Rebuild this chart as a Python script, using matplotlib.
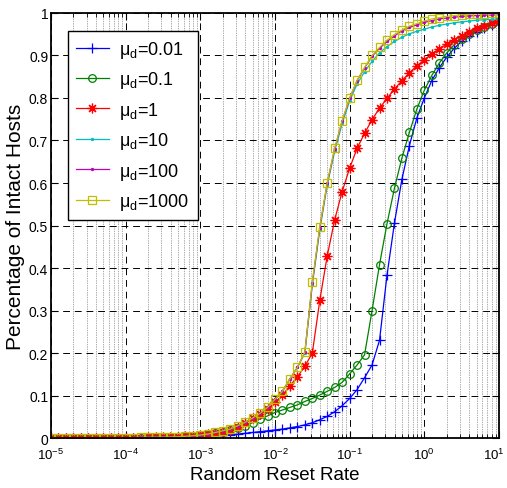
import numpy as np
import matplotlib
matplotlib.use('Agg')
import matplotlib.pyplot as plt
from matplotlib.ticker import LogLocator, NullFormatter
from matplotlib.transforms import ScaledTranslation

plt.rcParams['font.family'] = ['Liberation Sans', 'DejaVu Sans']

# reset rate sweep: 10 points per decade from 1e-5 to 1e1
rate = np.logspace(-5, 1, 61)

mu_001 = [0.0003, 0.0003, 0.0003, 0.0003, 0.0003, 0.0003, 0.0003, 0.0003, 0.0003, 0.0003,
          0.0003, 0.0003, 0.0004, 0.0005, 0.0006, 0.0008, 0.001, 0.0015, 0.002, 0.003,
          0.004, 0.005, 0.006, 0.007, 0.008, 0.009, 0.011, 0.013, 0.015, 0.017,
          0.019, 0.021, 0.024, 0.027, 0.031, 0.036, 0.043, 0.051, 0.062, 0.076,
          0.093, 0.114, 0.142, 0.172, 0.230, 0.383, 0.506, 0.609, 0.688, 0.753,
          0.800, 0.841, 0.871, 0.896, 0.917, 0.933, 0.946, 0.956, 0.965, 0.972, 0.980]

mu_01 = [0.0005, 0.0005, 0.0005, 0.0005, 0.0005, 0.0005, 0.0005, 0.0005, 0.0005, 0.0005,
         0.0005, 0.0006, 0.0007, 0.0009, 0.001, 0.0013, 0.002, 0.003, 0.0035, 0.0045,
         0.006, 0.008, 0.011, 0.014, 0.018, 0.023, 0.029, 0.036, 0.045, 0.052,
         0.060, 0.066, 0.072, 0.078, 0.086, 0.093, 0.101, 0.110, 0.119, 0.131,
         0.151, 0.172, 0.196, 0.300, 0.408, 0.504, 0.588, 0.659, 0.719, 0.774,
         0.818, 0.853, 0.882, 0.906, 0.925, 0.939, 0.951, 0.960, 0.968, 0.975, 0.981]

mu_1 = [0.001, 0.001, 0.001, 0.001, 0.001, 0.001, 0.001, 0.001, 0.001, 0.001,
        0.001, 0.001, 0.0012, 0.0013, 0.0015, 0.0017, 0.002, 0.003, 0.004, 0.005,
        0.007, 0.009, 0.012, 0.015, 0.020, 0.027, 0.036, 0.046, 0.056, 0.068,
        0.084, 0.101, 0.123, 0.144, 0.169, 0.200, 0.324, 0.429, 0.514, 0.580,
        0.635, 0.682, 0.717, 0.749, 0.776, 0.799, 0.821, 0.841, 0.859, 0.876,
        0.889, 0.904, 0.915, 0.927, 0.937, 0.947, 0.955, 0.964, 0.970, 0.976, 0.981]

mu_10 = [0.001, 0.001, 0.001, 0.001, 0.001, 0.001, 0.001, 0.001, 0.001, 0.001,
         0.001, 0.001, 0.0015, 0.0015, 0.002, 0.002, 0.0025, 0.003, 0.004, 0.0055,
         0.007, 0.0094, 0.013, 0.017, 0.021, 0.029, 0.037, 0.047, 0.058, 0.072,
         0.091, 0.110, 0.139, 0.166, 0.200, 0.360, 0.490, 0.595, 0.675, 0.740,
         0.793, 0.833, 0.862, 0.886, 0.906, 0.921, 0.933, 0.943, 0.951, 0.957,
         0.962, 0.967, 0.971, 0.974, 0.977, 0.979, 0.981, 0.983, 0.984, 0.985, 0.986]

mu_100 = [0.001, 0.001, 0.001, 0.001, 0.001, 0.001, 0.001, 0.001, 0.001, 0.001,
          0.001, 0.001, 0.0015, 0.0015, 0.002, 0.002, 0.0025, 0.003, 0.004, 0.0055,
          0.007, 0.0094, 0.013, 0.017, 0.021, 0.029, 0.037, 0.047, 0.058, 0.072,
          0.091, 0.110, 0.139, 0.166, 0.202, 0.365, 0.495, 0.600, 0.681, 0.746,
          0.799, 0.841, 0.871, 0.898, 0.917, 0.933, 0.946, 0.958, 0.966, 0.972,
          0.978, 0.982, 0.986, 0.988, 0.990, 0.992, 0.993, 0.994, 0.995, 0.995, 0.996]

mu_1000 = [0.001, 0.001, 0.001, 0.001, 0.001, 0.001, 0.001, 0.001, 0.001, 0.001,
           0.001, 0.001, 0.0015, 0.0015, 0.002, 0.002, 0.0025, 0.003, 0.004, 0.0055,
           0.007, 0.0094, 0.013, 0.017, 0.021, 0.029, 0.037, 0.047, 0.058, 0.072,
           0.091, 0.110, 0.139, 0.166, 0.202, 0.368, 0.497, 0.601, 0.682, 0.747,
           0.800, 0.842, 0.872, 0.900, 0.919, 0.936, 0.949, 0.960, 0.969, 0.975,
           0.981, 0.986, 0.989, 0.992, 0.994, 0.996, 0.997, 0.998, 0.998, 0.999, 0.999]

labels = ['0.01', '0.1', '1', '10', '100', '1000']
xtick_vals = [1e-5, 1e-4, 1e-3, 1e-2, 1e-1, 1e0, 1e1]
xtick_text = [r'$\mathregular{10^{-5}}$', r'$\mathregular{10^{-4}}$', r'$\mathregular{10^{-3}}$',
              r'$\mathregular{10^{-2}}$', r'$\mathregular{10^{-1}}$', r'$\mathregular{10^{0}}$',
              r'$\mathregular{10^{1}}$']
ytick_vals = [0, 0.1, 0.2, 0.3, 0.4, 0.5, 0.6, 0.7, 0.8, 0.9, 1]
ytick_text = ['0', '0.1', '0.2', '0.3', '0.4', '0.5', '0.6', '0.7', '0.8', '0.9', '1']

fig = plt.figure(figsize=(5.07, 4.89), dpi=100)
ax = fig.add_axes([0.1006, 0.1022, 0.8836, 0.8692])

styles = [
    (mu_001, (0, 0, 1), '+', 7, 'full'),
    (mu_01, (0, 0.5, 0), 'o', 5.5, 'none'),
    (mu_1, (1, 0, 0), (8, 2, 0), 7, 'full'),
    (mu_10, (0, 0.75, 0.75), '.', 3, 'full'),
    (mu_100, (0.75, 0, 0.75), '.', 3, 'full'),
    (mu_1000, (0.75, 0.75, 0), 's', 5.5, 'none'),
]
for (vals, col, mk, ms, fill), lab in zip(styles, labels):
    ax.plot(rate, vals, color=col, marker=mk, ms=ms, lw=0.9, mew=0.9,
            fillstyle=fill, label=r'μ$_\mathregular{d}$=' + lab)

ax.set_xscale('log')
ax.set_xlim(1e-5, 10)
ax.set_ylim(0, 1)
ax.set_xticks(xtick_vals)
ax.set_xticklabels(xtick_text)
ax.xaxis.set_minor_locator(LogLocator(base=10, subs=np.arange(2, 10), numticks=20))
ax.xaxis.set_minor_formatter(NullFormatter())
ax.set_yticks(ytick_vals)
ax.set_yticklabels(ytick_text)

ax.grid(which='major', axis='both', color='k', ls=(0, (7, 5)), lw=0.7)
ax.grid(which='minor', axis='x', color='0.35', ls=(0, (1, 1.5)), lw=0.5)
ax.set_axisbelow(True)

ax.tick_params(which='both', direction='in', top=True, right=True, labelsize=10)
ax.tick_params(which='major', length=5, width=0.8)
ax.tick_params(which='minor', length=3, width=0.6)
ax.tick_params(axis='x', labelsize=9.5, pad=6)
ax.tick_params(axis='y', pad=2)
for s in ax.spines.values():
    s.set_linewidth(1.3)

# nudge the last x label so it stays inside the figure
last = ax.get_xticklabels()[-1]
last.set_transform(last.get_transform() + ScaledTranslation(-5 / 100, 0, fig.dpi_scale_trans))

ax.set_xlabel('Random Reset Rate', fontsize=13.5, labelpad=3)
ax.set_ylabel('Percentage of Intact Hosts', fontsize=15, labelpad=3)

leg = ax.legend(loc='upper left', bbox_to_anchor=(0.038, 0.958), borderaxespad=0,
                fontsize=13, fancybox=False, framealpha=1, edgecolor='k',
                handlelength=1.8, handletextpad=0.6, labelspacing=0.52,
                borderpad=0.45)
leg.get_frame().set_linewidth(1.0)

fig.savefig('out.png', dpi=100)
